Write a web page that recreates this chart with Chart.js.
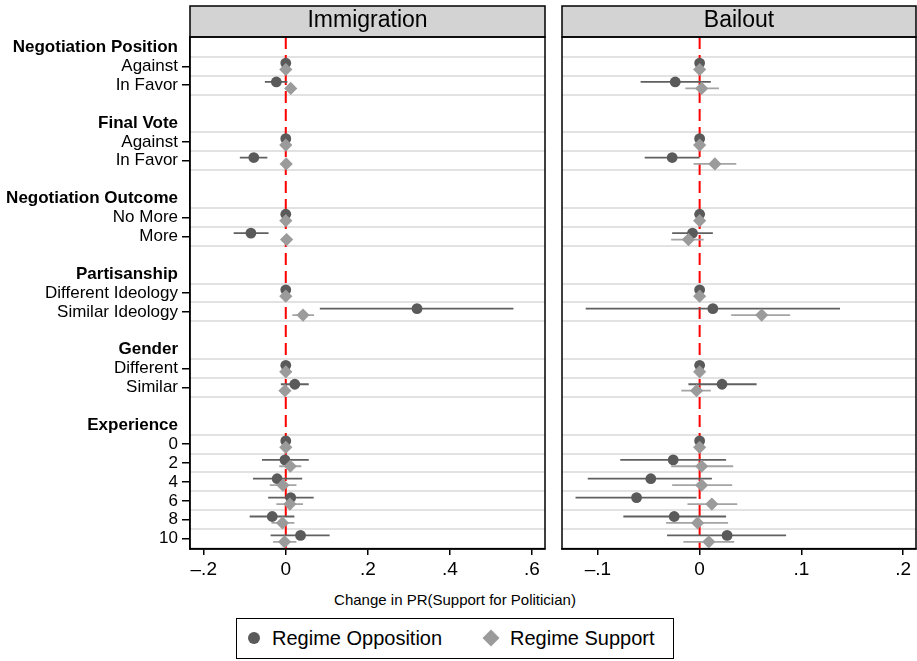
<!DOCTYPE html>
<html>
<head>
<meta charset="utf-8">
<title>Change in PR(Support for Politician)</title>
<script src="https://cdn.jsdelivr.net/npm/chart.js@4.4.1/dist/chart.umd.min.js"></script>
<style>
  html, body { margin: 0; padding: 0; background: #fff; }
  #fig { position: relative; width: 917px; height: 661px; overflow: hidden;
         font-family: "Liberation Sans", Arial, Helvetica, sans-serif; color: #000; }
  #immWrap  { position: absolute; left: 0;     top: 0; width: 552px; height: 590px; }
  #bailWrap { position: absolute; left: 550px; top: 0; width: 367px; height: 590px; }
  #xtitle { position: absolute; left: 0; top: 591px; width: 910px; text-align: center;
            font-size: 15px; line-height: 18px; }
  #legend { position: absolute; left: 236px; top: 618px; width: 438px; height: 41px;
            border: 1px solid #000; box-sizing: border-box; }
  #legend .mk { position: absolute; }
  #legend .tx { position: absolute; top: 8px; font-size: 20px; line-height: 23px; white-space: nowrap; }
</style>
</head>
<body>
<div id="fig">
  <div id="immWrap"><canvas id="immigration" width="552" height="590"></canvas></div>
  <div id="bailWrap"><canvas id="bailout" width="367" height="590"></canvas></div>
  <div id="xtitle">Change in PR(Support for Politician)</div>
  <div id="legend"></div>
</div>
<script>
// ---- rows of the coefficient plot ----
const groups = ['Negotiation Position', 'Final Vote', 'Negotiation Outcome', 'Partisanship', 'Gender', 'Experience'];
const levels = [
  ['Against', 'In Favor'],
  ['Against', 'In Favor'],
  ['No More', 'More'],
  ['Different Ideology', 'Similar Ideology'],
  ['Different', 'Similar'],
  ['0', '2', '4', '6', '8', '10']
];
const seriesNames = ['Regime Opposition', 'Regime Support'];

// ---- estimates and 95% intervals, one entry per level in the order above ----
// Immigration, regime opposition
const immOppEst = [0, -0.023, 0, -0.078, 0, -0.085, 0, 0.320, 0, 0.022, 0, -0.002, -0.021, 0.012, -0.033, 0.036];
const immOppLo  = [0, -0.051, 0, -0.112, 0, -0.127, 0, 0.083, 0, -0.012, 0, -0.058, -0.080, -0.043, -0.088, -0.037];
const immOppHi  = [0,  0.004, 0, -0.045, 0, -0.042, 0, 0.555, 0,  0.056, 0,  0.056,  0.040,  0.068,  0.021,  0.107];
// Immigration, regime support
const immSupEst = [0, 0.012, 0, 0.001, 0, 0.002, 0, 0.042, 0, -0.002, 0, 0.011, -0.007, 0.010, -0.008, -0.003];
const immSupLo  = [0, 0.004, 0, -0.006, 0, -0.005, 0, 0.016, 0, -0.008, 0, -0.016, -0.039, -0.023, -0.035, -0.031];
const immSupHi  = [0, 0.020, 0, 0.008, 0, 0.009, 0, 0.069, 0, 0.004, 0, 0.038, 0.026, 0.042, 0.021, 0.026];
// Bailout, regime opposition
const bailOppEst = [0, -0.024, 0, -0.027, 0, -0.007, 0, 0.013, 0, 0.022, 0, -0.026, -0.048, -0.062, -0.025, 0.027];
const bailOppLo  = [0, -0.058, 0, -0.054, 0, -0.027, 0, -0.112, 0, -0.011, 0, -0.078, -0.110, -0.122, -0.075, -0.032];
const bailOppHi  = [0,  0.011, 0,  0.000, 0,  0.013, 0,  0.138, 0,  0.056, 0,  0.026,  0.012, -0.003,  0.026,  0.085];
// Bailout, regime support
const bailSupEst = [0, 0.002, 0, 0.015, 0, -0.011, 0, 0.061, 0, -0.003, 0, 0.002, 0.002, 0.012, -0.002, 0.009];
const bailSupLo  = [0, -0.014, 0, -0.006, 0, -0.028, 0, 0.031, 0, -0.018, 0, -0.028, -0.027, -0.012, -0.033, -0.016];
const bailSupHi  = [0, 0.019, 0, 0.036, 0, 0.004, 0, 0.089, 0, 0.011, 0, 0.033, 0.032, 0.037, 0.028, 0.034];

// ---- x axis ticks ----
const immTickValues  = [-0.2, 0, 0.2, 0.4, 0.6];
const immTickLabels  = ['\u2013.2', '0', '.2', '.4', '.6'];
const bailTickValues = [-0.1, 0, 0.1, 0.2];
const bailTickLabels = ['\u2013.1', '0', '.1', '.2'];

// ---- styling ----
const FONT = '"Liberation Sans", Arial, Helvetica, sans-serif';
const OPP_FILL = '#5a5a5a', OPP_CI = '#606060';
const SUP_FILL = '#9b9b9b', SUP_CI = '#a4a4a4';
const REF_RED = '#ff0000';
const GRID_GREY = '#e2e2e2';

// Slot layout: group header, its levels, then an empty spacer row
const rows = [];       // every labelled row (headers and levels)
const itemSlots = [];  // y slot of every level, matching the value arrays
const gridSlots = [];  // light separator lines
(function buildRows() {
  let slot = 0;
  groups.forEach((g, gi) => {
    rows.push({ slot, text: g, header: true });
    gridSlots.push(slot + 0.5);
    slot++;
    levels[gi].forEach(l => {
      rows.push({ slot, text: l, header: false });
      itemSlots.push(slot);
      gridSlots.push(slot + 0.5);
      slot++;
    });
    slot++;
  });
})();
const Y_MIN = -0.55;
const Y_MAX = itemSlots[itemSlots.length - 1] + 0.55;
const OFFSET = 0.17;   // vertical dodge between the two series

function ciSegments(lo, hi, off) {
  const pts = [];
  itemSlots.forEach((s, i) => {
    pts.push({ x: lo[i], y: s + off }, { x: hi[i], y: s + off }, { x: null, y: null });
  });
  return pts;
}
function points(est, off) {
  return itemSlots.map((s, i) => ({ x: est[i], y: s + off }));
}

function panelDatasets(oe, ol, oh, se, sl, sh) {
  return [
    { label: 'zero', data: [{ x: 0, y: Y_MIN }, { x: 0, y: Y_MAX }], showLine: true,
      borderColor: REF_RED, borderWidth: 2, borderDash: [12, 6], pointRadius: 0, order: 10 },
    { label: seriesNames[0] + ' CI', data: ciSegments(ol, oh, -OFFSET), showLine: true, spanGaps: false,
      borderColor: OPP_CI, borderWidth: 1.8, pointRadius: 0, order: 4 },
    { label: seriesNames[0], data: points(oe, -OFFSET), showLine: false,
      pointStyle: 'circle', pointRadius: 5.4, pointBackgroundColor: OPP_FILL, pointBorderWidth: 0, order: 3 },
    { label: seriesNames[1] + ' CI', data: ciSegments(sl, sh, OFFSET), showLine: true, spanGaps: false,
      borderColor: SUP_CI, borderWidth: 1.8, pointRadius: 0, order: 2 },
    { label: seriesNames[1], data: points(se, OFFSET), showLine: false,
      pointStyle: 'rectRot', pointRadius: 6.6, pointBackgroundColor: SUP_FILL, pointBorderWidth: 0, order: 1 }
  ];
}

// Grey title strip above each panel plus a full frame round the plot area
const panelFrame = {
  id: 'panelFrame',
  afterDraw(chart, args, opts) {
    const { ctx, chartArea: a } = chart;
    ctx.save();
    ctx.fillStyle = '#d3d3d3';
    ctx.fillRect(a.left, opts.stripTop, a.right - a.left, a.top - opts.stripTop);
    ctx.strokeStyle = '#000';
    ctx.lineWidth = 1.5;
    ctx.strokeRect(a.left, opts.stripTop, a.right - a.left, a.top - opts.stripTop);
    ctx.strokeRect(a.left, a.top, a.right - a.left, a.bottom - a.top);
    ctx.fillStyle = '#000';
    ctx.font = '23px ' + FONT;
    ctx.textAlign = 'center';
    ctx.textBaseline = 'middle';
    ctx.fillText(opts.title, (a.left + a.right) / 2, (opts.stripTop + a.top) / 2 - 0.5);
    ctx.restore();
  }
};

function xScale(min, max, tickValues, tickLabels, canvasH) {
  return {
    type: 'linear', position: 'bottom', min, max,
    afterBuildTicks: s => { s.ticks = tickValues.map(v => ({ value: v })); },
    ticks: { callback: (v, i) => tickLabels[i], font: { family: FONT, size: 19 }, color: '#000',
             padding: 3, maxRotation: 0, autoSkip: false },
    grid: { drawOnChartArea: false, drawTicks: true, tickLength: 6, tickColor: '#000', lineWidth: 1.5 },
    border: { display: true, color: '#000', width: 1.5 },
    afterFit: s => { s.height = canvasH - 549; s.paddingLeft = 0; s.paddingRight = 0; }
  };
}
function gridScale(position) {
  return {
    type: 'linear', position, min: Y_MIN, max: Y_MAX, reverse: true,
    afterBuildTicks: s => { s.ticks = gridSlots.map(v => ({ value: v })); },
    ticks: { display: false },
    grid: { color: GRID_GREY, lineWidth: 2, drawTicks: false },
    border: { display: false },
    afterFit: s => { s.width = 0; s.paddingTop = 0; s.paddingBottom = 0; }
  };
}

const common = {
  responsive: false,
  animation: false,
  events: [],
  plugins: { legend: { display: false }, tooltip: { enabled: false } }
};

// Immigration panel (carries the row labels)
new Chart(document.getElementById('immigration'), {
  type: 'scatter',
  data: { datasets: panelDatasets(immOppEst, immOppLo, immOppHi, immSupEst, immSupLo, immSupHi) },
  options: Object.assign({}, common, {
    layout: { autoPadding: false, padding: { top: 37, right: 7, left: 0, bottom: 0 } },
    plugins: Object.assign({}, common.plugins, { panelFrame: { title: 'Immigration', stripTop: 6 } }),
    scales: {
      x: xScale(-0.2335, 0.632, immTickValues, immTickLabels, 590),
      y: {
        type: 'linear', position: 'left', min: Y_MIN, max: Y_MAX, reverse: true,
        afterBuildTicks: s => { s.ticks = rows.map(r => ({ value: r.slot })); },
        ticks: {
          callback: (v, i) => rows[i].text,
          font: ctx => ({ family: FONT, size: 17, weight: (rows[ctx.index] && rows[ctx.index].header) ? 'bold' : 'normal' }),
          color: '#000', padding: 4, autoSkip: false
        },
        grid: {
          drawOnChartArea: false, drawTicks: true, tickLength: 8, lineWidth: 1.5,
          tickColor: ctx => (rows[ctx.index] && rows[ctx.index].header) ? 'rgba(0,0,0,0)' : '#000'
        },
        border: { display: true, color: '#000', width: 1.5 },
        afterFit: s => { s.width = 190; s.paddingTop = 0; s.paddingBottom = 0; }
      },
      yg: gridScale('right')
    }
  }),
  plugins: [panelFrame]
});

// Bailout panel
new Chart(document.getElementById('bailout'), {
  type: 'scatter',
  data: { datasets: panelDatasets(bailOppEst, bailOppLo, bailOppHi, bailSupEst, bailSupLo, bailSupHi) },
  options: Object.assign({}, common, {
    layout: { autoPadding: false, padding: { top: 37, right: 1, left: 12, bottom: 0 } },
    plugins: Object.assign({}, common.plugins, { panelFrame: { title: 'Bailout', stripTop: 6 } }),
    scales: {
      x: xScale(-0.1353, 0.2127, bailTickValues, bailTickLabels, 590),
      y: gridScale('left')
    }
  }),
  plugins: [panelFrame]
});

// Legend box below the panels
(function buildLegend() {
  const box = document.getElementById('legend');
  const items = [
    { name: seriesNames[0], css: 'left:11px;top:13px;width:12px;height:12px;border-radius:50%;background:' + OPP_FILL, textLeft: 35 },
    { name: seriesNames[1], css: 'left:248px;top:13px;width:12px;height:12px;transform:rotate(45deg);background:' + SUP_FILL, textLeft: 273 }
  ];
  items.forEach(it => {
    const m = document.createElement('span');
    m.className = 'mk';
    m.style.cssText = it.css;
    const t = document.createElement('span');
    t.className = 'tx';
    t.style.left = it.textLeft + 'px';
    t.textContent = it.name;
    box.appendChild(m);
    box.appendChild(t);
  });
})();
</script>
</body>
</html>
